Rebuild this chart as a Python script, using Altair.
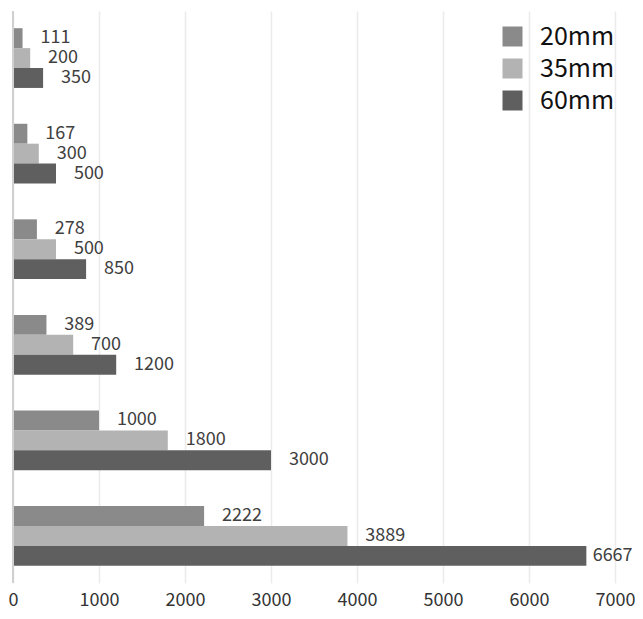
import altair as alt
import pandas as pd

groups = ["g1", "g2", "g3", "g4", "g5", "g6"]
series = ["20mm", "35mm", "60mm"]
v20 = [111, 167, 278, 389, 1000, 2222]
v35 = [200, 300, 500, 700, 1800, 3889]
v60 = [350, 500, 850, 1200, 3000, 6667]
colors = ["#8a8a8a", "#b3b3b3", "#5f5f5f"]

rows = []
for i, g in enumerate(groups):
    for s, vals in zip(series, [v20, v35, v60]):
        rows.append({"group": g, "series": s, "value": vals[i]})
df = pd.DataFrame(rows)

FONT = "Noto Sans CJK SC"

y = alt.Y("group:N", sort=groups, axis=None,
          scale=alt.Scale(paddingInner=0.375, paddingOuter=0.18))
yoff = alt.YOffset("series:N", sort=series, scale=alt.Scale(paddingInner=0, paddingOuter=0))

bars = alt.Chart(df).mark_bar().encode(
    x=alt.X("value:Q", scale=alt.Scale(domain=[0, 7000], nice=False),
            axis=alt.Axis(values=list(range(0, 7001, 1000)), title=None, ticks=False,
                          domain=False, labelFontSize=18, labelColor="#333333",
                          labelFont=FONT, labelPadding=8, gridColor="#ebebeb",
                          gridWidth=1.5, labelFlush=False, format="d")),
    y=y,
    yOffset=yoff,
    color=alt.Color("series:N", sort=series,
                    scale=alt.Scale(domain=series, range=colors),
                    legend=alt.Legend(title=None, orient="none", legendX=487, legendY=13,
                                      symbolType="square", symbolSize=400,
                                      symbolStrokeWidth=0, labelFontSize=25,
                                      labelFont=FONT, labelColor="#111111",
                                      rowPadding=6, labelOffset=15)),
)

labels = alt.Chart(df).transform_calculate(
    lx="min(datum.value + 208, 6740)"
).mark_text(align="left", baseline="middle", fontSize=18, font=FONT,
            color="#404040").encode(
    x=alt.X("lx:Q"),
    y=y,
    yOffset=yoff,
    text=alt.Text("value:Q", format="d"),
)

leftline = alt.Chart(df).mark_rule(color="#d0d0d0", strokeWidth=2).encode(
    x=alt.datum(0)
)

chart = alt.layer(bars, labels, leftline).properties(
    width=602, height=572,
    autosize=alt.AutoSizeParams(type="none"),
    padding={"left": 5, "top": 3, "right": 20, "bottom": 28}
).configure_view(stroke=None)

chart.save("out.html", embed_options={"renderer": "svg", "actions": False})
